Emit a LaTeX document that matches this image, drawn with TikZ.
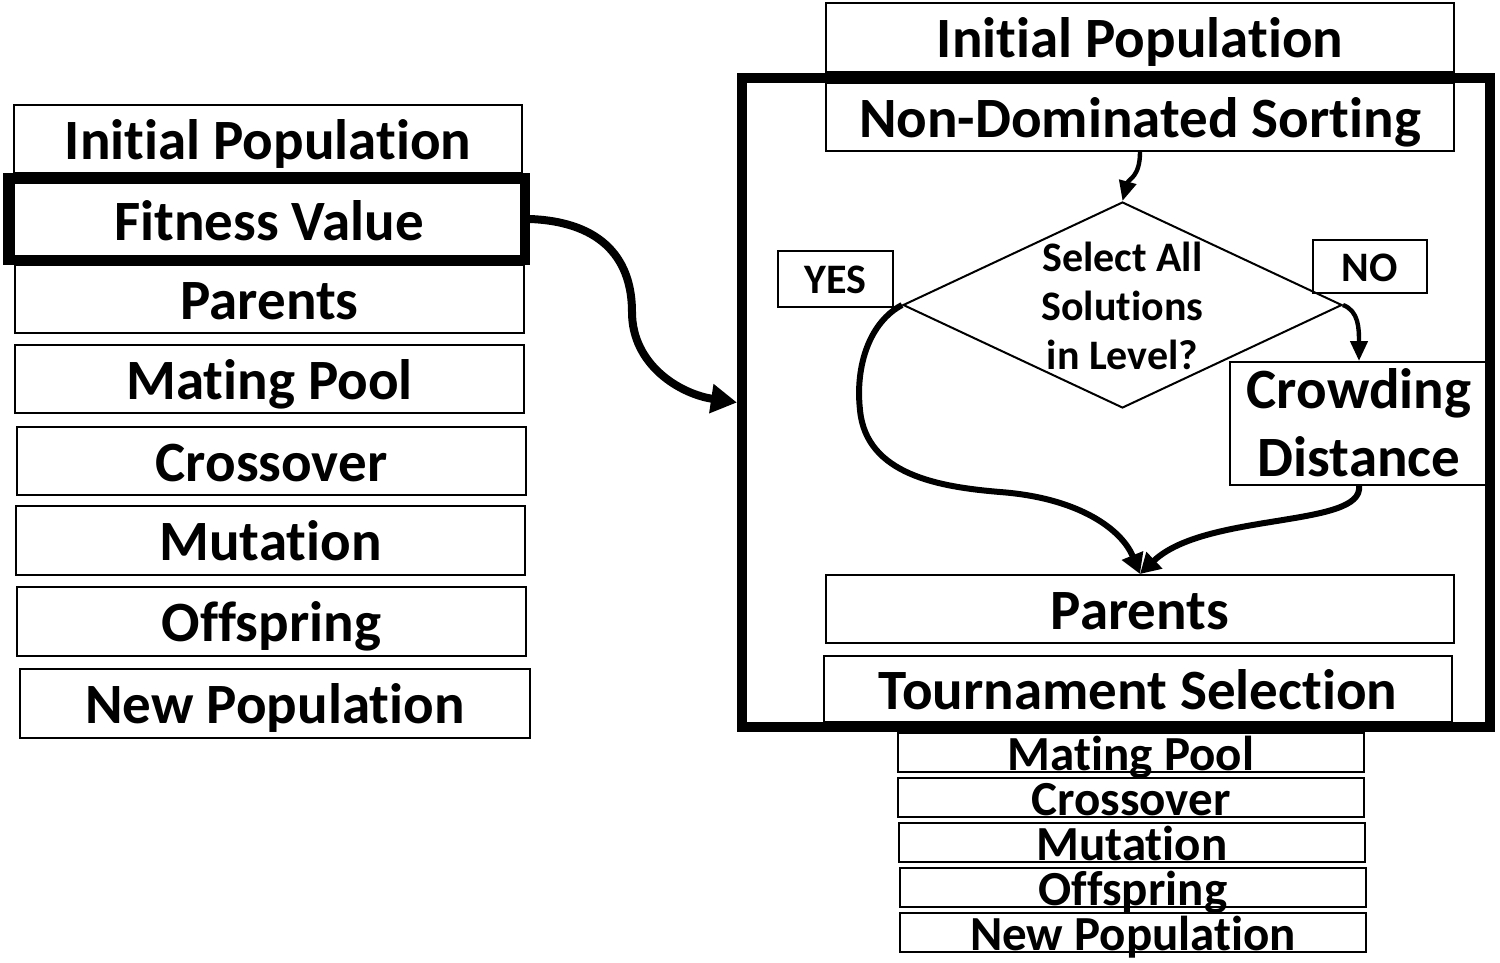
\documentclass[tikz,border=0pt]{standalone}
\usepackage{fontspec}
\setmainfont{Carlito}[Ligatures=NoCommon]
\usetikzlibrary{shapes.geometric,arrows.meta}
\tikzset{
  bigf/.style={font=\bfseries\fontsize{28.5}{34}\selectfont},
  box/.style={draw, line width=1pt, inner sep=0pt, bigf, text height=20.4pt, text depth=0pt},
  sbox/.style={draw, line width=1pt, inner sep=0pt, font=\bfseries\fontsize{24.5}{29}\selectfont, text height=18.5pt, text depth=1pt},
  lab/.style={draw, line width=1pt, inner sep=0pt, font=\bfseries\fontsize{21}{24}\selectfont, text height=14.5pt, text depth=0pt},
  frame/.style={draw, line width=5pt, inner sep=0pt},
  bigarrow/.style={line width=4pt, -{Triangle[length=13pt,width=14pt]}},
  midarrow/.style={line width=3pt, -{Triangle[length=10pt,width=11pt]}},
  smallarrow/.style={line width=2.2pt, -{Triangle[length=10pt,width=8.5pt]}},
}
\begin{document}
\begin{tikzpicture}[x=0.5pt,y=-0.5pt]
\useasboundingbox (0,0) rectangle (1500,963);
% left column
\node[box, minimum width=254pt, minimum height=34pt] (LIP) at (268,139) {Initial Population};
\node[box, minimum width=255pt, minimum height=36.5pt] (LFit) at (269,220) {Fitness Value};
\node[box, minimum width=254.5pt, minimum height=34pt] (LPar) at (269.5,299) {Parents};
\node[box, minimum width=254.5pt, minimum height=34pt] (LMat) at (269.5,379) {Mating Pool};
\node[box, minimum width=254.5pt, minimum height=34pt] (LCro) at (271.5,461) {Crossover};
\node[box, minimum width=254.5pt, minimum height=34.5pt] (LMut) at (270.5,540.5) {Mutation};
\node[box, minimum width=254.5pt, minimum height=34.5pt] (LOff) at (271.5,621.5) {Offspring};
\node[box, minimum width=255pt, minimum height=34.5pt] (LNew) at (275,703.5) {New Population};
\node[frame, minimum width=258.5pt, minimum height=41pt] (FitFrame) at (266.5,219) {};
% right column
\node[box, minimum width=314pt, minimum height=34.5pt] (RIP) at (1140,37.5) {Initial Population};
\node[box, minimum width=314pt, minimum height=34pt] (NDS) at (1140,117) {Non-Dominated Sorting};
\node[draw, line width=1pt, shape=diamond, aspect=2.131, inner sep=0pt,
      minimum width=219.5pt, minimum height=103pt, align=center,
      font=\bfseries\fontsize{21}{24.5}\selectfont, text height=64pt, text depth=0pt]
      (Dia) at (1122.5,305) {Select All\\Solutions\\in Level?};
\node[lab, minimum width=57.5pt, minimum height=28pt] (YES) at (835.5,279) {YES};
\node[lab, minimum width=57pt, minimum height=26.5pt] (NO) at (1370,266.5) {NO};
\node[draw, line width=1pt, inner sep=0pt, bigf, align=center, text height=52.9pt, text depth=0pt,
      minimum width=129pt, minimum height=61.5pt] (Crowd) at (1359,423.5) {Crowding\\Distance};
\node[box, minimum width=314pt, minimum height=34pt] (RPar) at (1140,609) {Parents};
\node[box, minimum width=314pt, minimum height=33pt] (Tour) at (1138,689) {Tournament Selection};
\node[frame, minimum width=374pt, minimum height=324.5pt] (Big) at (1116,402.5) {};
\node[sbox, minimum width=233pt, minimum height=19.5pt] (SMat) at (1131,752.5) {Mating Pool};
\node[sbox, minimum width=233pt, minimum height=19.5pt] (SCro) at (1131,797.5) {Crossover};
\node[sbox, minimum width=233pt, minimum height=19.5pt] (SMut) at (1132,842.5) {Mutation};
\node[sbox, minimum width=233pt, minimum height=19.5pt] (SOff) at (1133,887.5) {Offspring};
\node[sbox, minimum width=233pt, minimum height=19.5pt] (SNew) at (1133,932.5) {New Population};
% connectors
\draw[bigarrow] (FitFrame.east) .. controls (605,222) and (632,262) .. (632,312)
      .. controls (632,365) and (680,394) .. (Big.west);
\draw[smallarrow] (NDS.south) .. controls +(0,25) and +(6,-22) .. (Dia.north);
\draw[smallarrow] (Dia.east) .. controls +(16,6) and +(0,-32) .. (Crowd.north);
\draw[midarrow] (Dia.west) .. controls (870,322) and (855,365) .. (860,410)
      .. controls (866,475) and (940,487) .. (1000,492)
      .. controls (1080,498) and (1122,530) .. (RPar.north);
\draw[midarrow] (Crowd.south) .. controls (1364,528) and (1205,512) .. (RPar.north);
\end{tikzpicture}
\end{document}
